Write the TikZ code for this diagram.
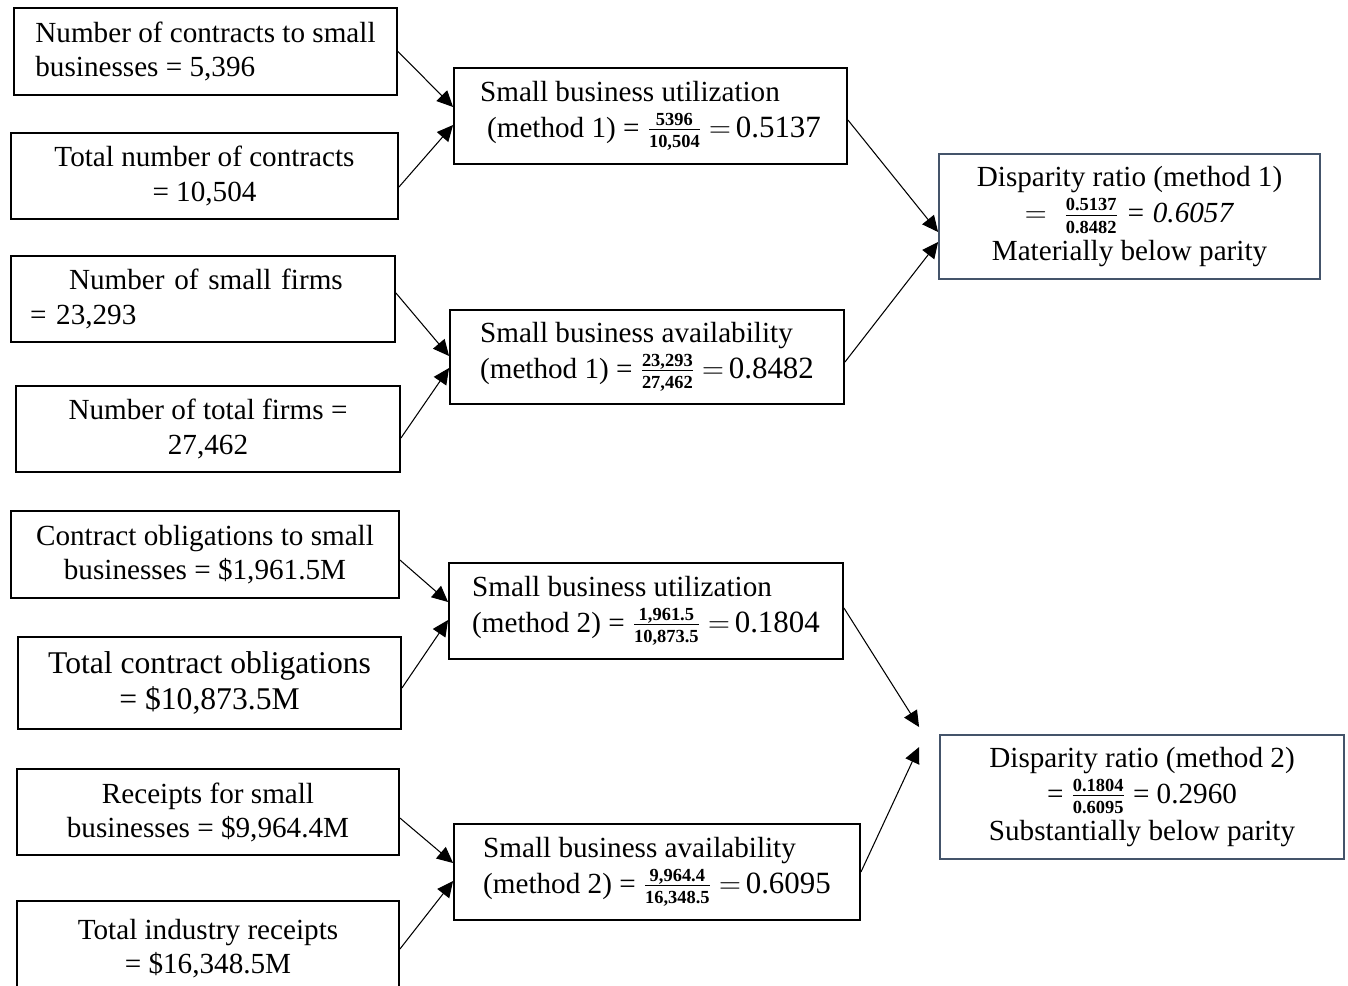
\documentclass[tikz,border=0pt]{standalone}
\usepackage[no-math]{fontspec}
\setmainfont{Liberation Serif}
\usepackage{tikz}
\usetikzlibrary{arrows.meta,positioning}
\usepackage{xcolor}
\definecolor{slategray}{RGB}{68,84,106}
\newcommand{\boxfont}{\fontsize{16.6}{19.4}\selectfont}
\newcommand{\bigboxfont}{\fontsize{18}{20.6}\selectfont}
\newcommand{\ratiofrac}[2]{\ensuremath{\frac{\mbox{\fontsize{10.5}{11}\selectfont\bfseries #1}}{\mbox{\fontsize{10.5}{11}\selectfont\bfseries #2}}}}
\newcommand{\ratioval}[1]{\ensuremath{=}\,{\fontsize{17.6}{19.4}\selectfont #1}}
\tikzset{
  inbox/.style={rectangle, draw=black, line width=1.1pt, inner sep=0pt,
                align=center, font=\boxfont},
  calcbox/.style={inbox, align=left},
  ratiobox/.style={inbox, draw=slategray},
  feed/.style={-{Triangle[length=3.2mm,width=3mm]}, line width=0.6pt, black},
}

\begin{document}
\begin{tikzpicture}[x=0.02cm, y=-0.02cm]
\useasboundingbox (0,0) rectangle (1348,985);

% ---- Method 1: inputs ----
\node[inbox, align=left, minimum width=7.66cm, minimum height=1.74cm] (ncontr) at (205.5,51.5) {Number of contracts to small\\businesses = 5,396};
\node[inbox, minimum width=7.74cm, minimum height=1.72cm] (tcontr) at (204.5,176) {Total number of contracts\\= 10,504};
\node[inbox, align=left, text width=6.92cm, minimum width=7.68cm, minimum height=1.72cm] (nsmall) at (203,299) {\hspace*{0.78cm}Number of small firms\\= 23,293};
\node[inbox, minimum width=7.68cm, minimum height=1.72cm] (ntotal) at (208,429) {Number of total firms =\\27,462};

% ---- Method 2: inputs ----
\node[inbox, minimum width=7.76cm, minimum height=1.74cm] (oblsmall) at (205,554.5) {Contract obligations to small\\businesses = \$1,961.5M};
\node[inbox, font=\bigboxfont, minimum width=7.66cm, minimum height=1.84cm] (obltotal) at (209.5,683) {Total contract obligations\\= \$10,873.5M};
\node[inbox, minimum width=7.64cm, minimum height=1.72cm] (rcpsmall) at (208,812) {Receipts for small\\businesses = \$9,964.4M};
\node[inbox, minimum width=7.64cm, minimum height=1.92cm] (rcptotal) at (208,949) {Total industry receipts\\= \$16,348.5M};

% ---- Utilization / availability ----
\node[calcbox, minimum width=7.86cm, minimum height=1.92cm] (util1) at (650.5,116) {Small business utilization\\[1pt]\hspace*{0.14cm}(method 1) = \ratiofrac{5396}{10,504} \ratioval{0.5137}};
\node[calcbox, minimum width=7.88cm, minimum height=1.88cm] (avail1) at (647,357) {Small business availability\\[1pt](method 1) = \ratiofrac{23,293}{27,462} \ratioval{0.8482}};
\node[calcbox, minimum width=7.88cm, minimum height=1.92cm] (util2) at (646,611) {Small business utilization\\[1pt](method 2) = \ratiofrac{1,961.5}{10,873.5} \ratioval{0.1804}};
\node[calcbox, minimum width=8.12cm, minimum height=1.92cm] (avail2) at (657,872) {Small business availability\\[1pt](method 2) = \ratiofrac{9,964.4}{16,348.5} \ratioval{0.6095}};

% ---- Disparity ratios ----
\node[ratiobox, minimum width=7.62cm, minimum height=2.5cm] (disp1) at (1129.5,216.5) {Disparity ratio (method 1)\\[1pt]$=\;\ratiofrac{0.5137}{0.8482}$ \textit{= 0.6057}\\[2pt]Materially below parity};
\node[ratiobox, minimum width=8.08cm, minimum height=2.48cm] (disp2) at (1142,797) {Disparity ratio (method 2)\\[1pt]= \ratiofrac{0.1804}{0.6095} = 0.2960\\[2pt]Substantially below parity};

% ---- Arrows ----
\draw[feed] (ncontr.east) -- ([yshift=0.18cm]util1.west);
\draw[feed] ([yshift=-0.22cm]tcontr.east) -- ([yshift=-0.18cm]util1.west);
\draw[feed] ([yshift=0.12cm]nsmall.east) -- ([yshift=0.02cm]avail1.west);
\draw[feed] ([yshift=-0.18cm]ntotal.east) -- ([yshift=-0.22cm]avail1.west);
\draw[feed] ([yshift=-0.08cm]util1.east) -- ([yshift=-0.31cm]disp1.west);
\draw[feed] ([yshift=-0.1cm]avail1.east) -- ([yshift=-0.51cm]disp1.west);

\draw[feed] ([yshift=-0.11cm]oblsmall.east) -- ([yshift=0.18cm]util2.west);
\draw[feed] ([yshift=-0.1cm]obltotal.east) -- ([yshift=-0.18cm]util2.west);
\draw[feed] ([yshift=-0.12cm]rcpsmall.east) -- ([yshift=0.18cm]avail2.west);
\draw[feed] (rcptotal.east) -- ([yshift=-0.18cm]avail2.west);
\draw[feed] ([yshift=0.06cm]util2.east) -- ([xshift=-0.4cm, yshift=1.4cm]disp2.west);
\draw[feed] (avail2.east) -- ([xshift=-0.4cm, yshift=1.0cm]disp2.west);
\end{tikzpicture}
\end{document}
